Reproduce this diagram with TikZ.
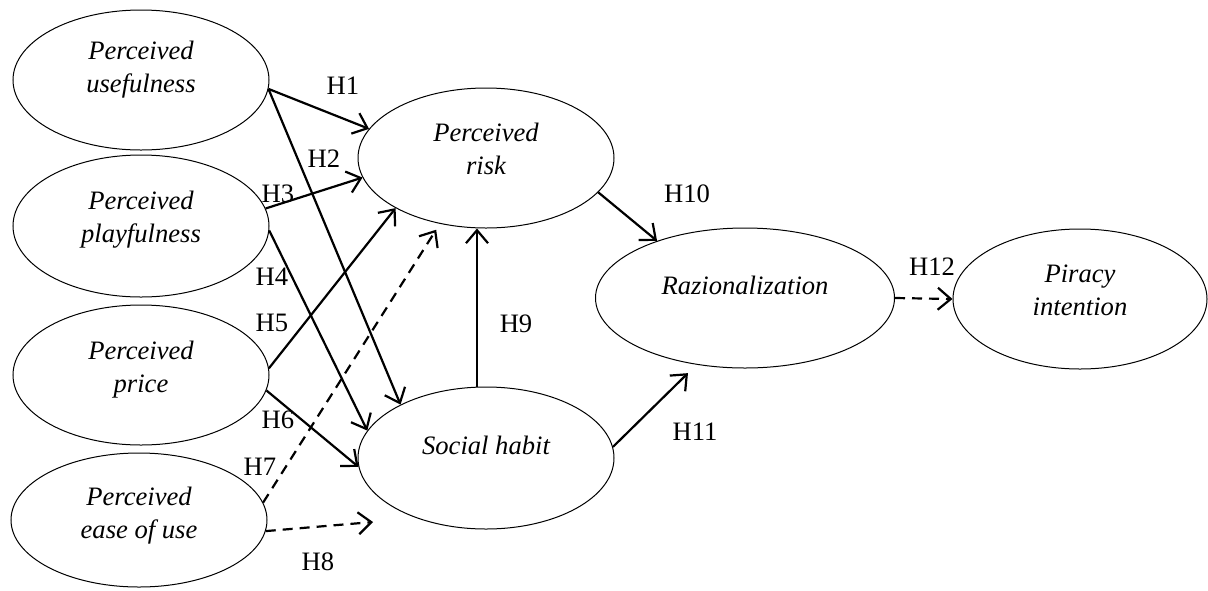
\documentclass[tikz,border=0pt]{standalone}
\usepackage{fontspec}
\setmainfont{Liberation Serif}
\usetikzlibrary{arrows.meta,shapes.geometric}
\begin{document}
\begin{tikzpicture}[x=1pt,y=-1pt,
  ell/.style={draw, line width=1pt, ellipse, minimum width=256pt, minimum height=140pt, inner sep=0pt},
  lbl/.style={font=\fontsize{26.6}{33}\selectfont\itshape, align=center, inner sep=0pt},
  hyp/.style={font=\fontsize{26.6}{33}\selectfont, inner sep=0pt},
  arr/.style={line width=2.2pt, -{Straight Barb[length=13pt,width=22pt,line width=2.2pt]}},
  darr/.style={arr, dash pattern=on 10pt off 7pt}]
\useasboundingbox (0,0) rectangle (1208,590);
% constructs
\node[ell] (u) at (141,80) {};
\node[lbl] (tu) at (141,69.5) {Perceived\\usefulness};
\node[ell, minimum height=142pt] (pl) at (141,226) {};
\node[lbl] (tpl) at (141,220) {Perceived\\playfulness};
\node[ell] (pr) at (141,375) {};
\node[lbl] (tpr) at (141,370) {Perceived\\price};
\node[ell, minimum height=134pt] (e) at (139,520) {};
\node[lbl] (te) at (139,516) {Perceived\\ease of use};
\node[ell] (r) at (486,158) {};
\node[lbl] (tr) at (486,148.5) {Perceived\\risk};
\node[ell, minimum height=142pt] (s) at (486,458) {};
\node[lbl] (ts) at (486,445) {Social habit};
\node[ell, minimum width=299pt] (z) at (745,298) {};
\node[lbl] (tz) at (745,285) {Razionalization};
\node[ell, minimum width=254pt] (pi) at (1080,299) {};
\node[lbl] (tpi) at (1080,290.5) {Piracy\\intention};
% free ends
\coordinate (h8end) at (373,522);
% connectors
\draw[arr] (u.-4) -- (r.166);
\draw[arr] (u.-4) -- (s.148);
\draw[arr] (pl.8.4) -- (r.189);
\draw[arr] (pl.-2.7) -- (s.167);
\draw[arr] (pr.3.1) -- (r.209);
\draw[arr] (pr.-7.6) -- (s.184);
\draw[darr, shorten >=7pt] (e.8.8) -- (r.235);
\draw[darr] (e.-5.8) -- (h8end);
\draw[arr] ([xshift=-9pt]s.north) -- ([xshift=-9pt]r.south);
\draw[arr] (r.-17.8) -- (z.147.5);
\draw[arr, shorten >=12pt] (s.5.8) -- (z.234);
\draw[darr] (z.east) -- (pi.west);
% labels
\node[hyp] (h1) at (343,86) {H1};
\node[hyp] (h2) at (324,159) {H2};
\node[hyp] (h3) at (278,194) {H3};
\node[hyp] (h4) at (272,277) {H4};
\node[hyp] (h5) at (272,323) {H5};
\node[hyp] (h6) at (278,420) {H6};
\node[hyp] (h7) at (260,467) {H7};
\node[hyp] (h8) at (318,562) {H8};
\node[hyp] (h9) at (516,324) {H9};
\node[hyp] (h10) at (687,194) {H10};
\node[hyp] (h11) at (695,432) {H11};
\node[hyp] (h12) at (932,267) {H12};
\end{tikzpicture}
\end{document}
